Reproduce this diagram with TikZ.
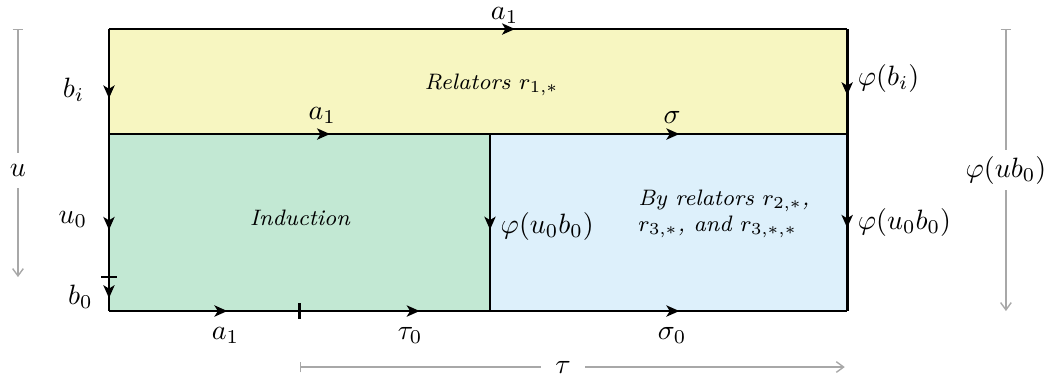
\documentclass[tikz,border=0pt]{standalone}
\usepackage{amsmath,amssymb}
\usetikzlibrary{arrows.meta,decorations.markings,calc}
\definecolor{relyellow}{HTML}{F7F6C1}
\definecolor{indgreen}{HTML}{C2E8D3}
\definecolor{relblue}{HTML}{DDF0FB}
\definecolor{spangray}{HTML}{A8A8A8}
\tikzset{
  side/.style={line width=1pt},
  midarrow/.style={postaction={decorate},decoration={markings,mark=at position #1 with {\arrow{Stealth[length=4.6pt,width=4pt,inset=1.2pt]}}}},
  region/.style={font=\footnotesize\itshape,align=left},
  span/.style={draw=spangray,line width=0.5pt,{Bar[width=3.8pt]}-{Straight Barb[length=2.6pt,width=3.8pt]}},
  spanlabel/.style={fill=white,inner sep=#1},
}
\begin{document}
\begin{tikzpicture}
  \useasboundingbox (-1.370,-0.893) rectangle (11.830,3.910);
  % corners of the diagram
  \coordinate (nw) at (0,3.545);
  \coordinate (ne) at (9.28,3.545);
  \coordinate (w)  at (0,2.225);
  \coordinate (m)  at (4.79,2.225);
  \coordinate (e)  at (9.28,2.225);
  \coordinate (wt) at (0,0.427);
  \coordinate (sw) at (0,0);
  \coordinate (st) at (2.40,0);
  \coordinate (s)  at (4.79,0);
  \coordinate (se) at (9.28,0);
  % cells
  \fill[relyellow] (w) rectangle (ne);
  \fill[indgreen] (sw) rectangle (m);
  \fill[relblue] (s) rectangle (e);
  \node[region] (rel1) at (4.81,2.84) {Relators $r_{1,*}$};
  \node[region] (ind) at (2.40,1.17) {Induction};
  \node[region,anchor=west] (rel23) at (6.53,1.22) {By relators $r_{2,*}$,\\$r_{3,*}$, and $r_{3,*,*}$};
  % top and middle rows
  \draw[side,midarrow=0.55] (nw) -- node[pos=0.536,above=0.8pt,inner sep=0.6pt] (ltop) {$a_1$} (ne);
  \draw[side,midarrow=0.58] (w) -- node[pos=0.56,above] (lmid) {$a_1$} (m);
  \draw[side,midarrow=0.53] (m) -- node[pos=0.51,above] (lsig) {$\sigma$} (e);
  % bottom row
  \draw[side,midarrow=0.62] (sw) -- node[pos=0.61,below=2pt] (lbot) {$a_1$} (st);
  \draw[side,midarrow=0.63] (st) -- node[pos=0.58,below=2pt] (ltau) {$\tau_0$} (s);
  \draw[side,midarrow=0.53] (s) -- node[pos=0.51,below=2pt] (lsig0) {$\sigma_0$} (se);
  % left side
  \draw[side,midarrow=0.66] (nw) -- node[pos=0.58,left=5pt] (lbi) {$b_i$} (w);
  \draw[side,midarrow=0.67] (w) -- node[pos=0.60,left=4pt] (lu0) {$u_0$} (wt);
  \draw[side,midarrow=0.62] (wt) -- node[pos=0.58,left=2pt] (lb0) {$b_0$} (sw);
  % right side and divider
  \draw[side,midarrow=0.63] (ne) -- node[pos=0.47,right] (lphibi) {$\varphi(b_i)$} (e);
  \draw[side,midarrow=0.53] (e) -- node[pos=0.50,right] (lphir) {$\varphi(u_0b_0)$} (se);
  \draw[side,midarrow=0.54] (m) -- node[pos=0.52,right] (lphim) {$\varphi(u_0b_0)$} (s);
  % ticks
  \draw[side] ($(wt)+(-0.1,0)$) -- ($(wt)+(0.1,0)$);
  \draw[side] ($(st)+(0,-0.1)$) -- ($(st)+(0,0.1)$);
  % spans
  \coordinate (ua) at (-1.144,3.545);
  \coordinate (ub) at (-1.144,0.427);
  \coordinate (pa) at (11.276,3.545);
  \coordinate (pb) at (11.276,0);
  \coordinate (ta) at (2.40,-0.704);
  \coordinate (tb) at (9.25,-0.704);
  \draw[span] (ua) -- node[pos=0.57,spanlabel=4pt] (lu) {$u$} (ub);
  \draw[span] (pa) -- node[pos=0.5,spanlabel=2pt] (lphiu) {$\varphi(ub_0)$} (pb);
  \draw[span] (ta) -- node[pos=0.483,spanlabel=5pt] (ltaus) {$\tau$} (tb);
\end{tikzpicture}
\end{document}
